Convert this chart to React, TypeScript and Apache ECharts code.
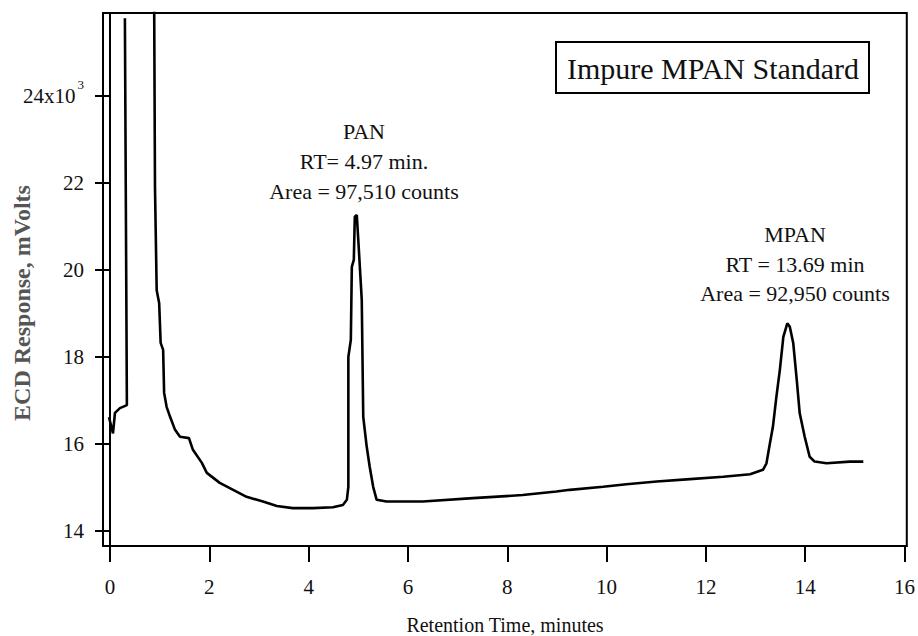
import React, { useEffect, useRef } from "react";
import * as echarts from "echarts";

// Retention time (minutes) and ECD response (x10^3 mV); null breaks the trace (off-scale)
const timeMin: number[] = [
  -0.02, 0.06, 0.1, 0.2, 0.34, 0.3, 0.6,
  0.886, 0.906, 0.94, 0.99, 1.02, 1.07, 1.09, 1.14, 1.21, 1.31, 1.41, 1.59, 1.67, 1.85, 1.95,
  2.21, 2.48, 2.75, 3.08, 3.36, 3.68, 4.09, 4.49, 4.69, 4.77, 4.8, 4.8, 4.85, 4.87, 4.91, 4.93,
  4.97, 5.0, 5.07, 5.1, 5.17, 5.23, 5.3, 5.37, 5.57, 6.3, 7.31, 8.31, 8.99, 9.26, 9.93, 10.4,
  11.01, 11.61, 12.35, 12.89, 13.15, 13.22, 13.29, 13.35, 13.42, 13.49, 13.56, 13.64, 13.69,
  13.76, 13.83, 13.89, 13.99, 14.09, 14.19, 14.43, 14.9, 15.17,
];
const responseE3mV: (number | null)[] = [
  16.61, 16.24, 16.71, 16.82, 16.89, 25.79, null,
  27.0, 21.9, 19.53, 19.24, 18.32, 18.16, 17.17, 16.85, 16.62, 16.32, 16.16, 16.13, 15.86, 15.56, 15.33,
  15.1, 14.94, 14.78, 14.67, 14.57, 14.52, 14.52, 14.54, 14.59, 14.71, 15.01, 18.0, 18.39, 20.07, 20.23, 21.22,
  21.26, 20.69, 19.31, 16.62, 15.93, 15.47, 15.01, 14.71, 14.67, 14.67, 14.75, 14.82, 14.9, 14.94, 15.01, 15.07,
  15.13, 15.18, 15.24, 15.3, 15.4, 15.55, 16.01, 16.39, 17.08, 17.7, 18.46, 18.77, 18.69,
  18.31, 17.47, 16.7, 16.16, 15.7, 15.59, 15.55, 15.59, 15.59,
];

const xTickValues = [0, 2, 4, 6, 8, 10, 12, 14, 16];
const yTickValues = [14, 16, 18, 20, 22, 24];
const xTitle = "Retention Time, minutes";
const yTitle = "ECD Response, mVolts";
const chartTitle = "Impure MPAN Standard";
const panLabel = ["PAN", "RT= 4.97 min.", "Area = 97,510 counts"];
const mpanLabel = ["MPAN", "RT = 13.69 min", "Area = 92,950 counts"];

export default function App() {
  const ref = useRef<HTMLDivElement>(null);
  useEffect(() => {
    if (!ref.current) return;
    const chart = echarts.init(ref.current, null, { renderer: "svg" });
    const ff = "Liberation Serif";
    const data = timeMin.map((t, i) => [t, responseE3mV[i] === null ? "-" : responseE3mV[i]]);

    const textLines = (lines: string[], cx: number, ys: number[]) =>
      lines.map((s, i) => ({
        type: "text",
        x: cx,
        y: ys[i],
        style: {
          text: s,
          fill: "#111",
          fontSize: 22,
          fontFamily: ff,
          align: "center",
          verticalAlign: "middle",
        },
      }));

    chart.setOption({
      animation: false,
      backgroundColor: "#fff",
      textStyle: { fontFamily: ff },
      grid: {
        left: 103,
        right: 11,
        top: 13,
        bottom: 90,
        show: true,
        borderColor: "#000",
        borderWidth: 2,
        backgroundColor: "transparent",
      },
      xAxis: {
        type: "value",
        min: -0.141,
        max: 16.046,
        axisLine: { show: true, lineStyle: { color: "#000", width: 2 } },
        axisTick: {
          show: true,
          inside: false,
          length: 16,
          customValues: xTickValues,
          lineStyle: { color: "#000", width: 2 },
        },
        axisLabel: {
          customValues: xTickValues,
          margin: 30,
          color: "#111",
          fontSize: 21,
          fontFamily: ff,
        },
        splitLine: { show: false },
      },
      yAxis: {
        type: "value",
        min: 13.648,
        max: 25.909,
        axisLine: { show: true, lineStyle: { color: "#000", width: 2 } },
        axisTick: {
          show: true,
          inside: false,
          length: 15,
          customValues: yTickValues,
          lineStyle: { color: "#000", width: 2 },
        },
        axisLabel: {
          customValues: yTickValues,
          margin: 19,
          color: "#111",
          fontFamily: ff,
          fontSize: 21,
          formatter: (v: number) => (v === 24 ? "{a|24x10}{s|3}" : "{a|" + v + "}"),
          rich: {
            a: { fontSize: 21, fontFamily: ff, color: "#111" },
            s: { fontSize: 13, fontFamily: ff, color: "#111", padding: [0, 0, 22, 2] },
          },
        },
        splitLine: { show: false },
      },
      series: [
        {
          type: "line",
          data,
          showSymbol: false,
          symbol: "none",
          clip: true,
          connectNulls: false,
          lineStyle: { color: "#000", width: 2.6 },
        },
      ],
      graphic: [
        {
          type: "rect",
          shape: { x: 556, y: 42, width: 313, height: 51 },
          style: { fill: "#fff", stroke: "#000", lineWidth: 2 },
        },
        {
          type: "text",
          x: 713,
          y: 68,
          style: {
            text: chartTitle,
            fill: "#111",
            fontSize: 30,
            fontFamily: ff,
            align: "center",
            verticalAlign: "middle",
          },
        },
        ...textLines(panLabel, 364, [131, 161, 191]),
        ...textLines(mpanLabel, 795, [234, 264, 293]),
        {
          type: "text",
          x: 505,
          y: 625,
          style: {
            text: xTitle,
            fill: "#111",
            fontSize: 20,
            fontFamily: ff,
            align: "center",
            verticalAlign: "middle",
          },
        },
        {
          type: "text",
          x: 22,
          y: 303,
          rotation: Math.PI / 2,
          style: {
            text: yTitle,
            fill: "#555",
            fontSize: 24,
            fontWeight: "bold",
            fontFamily: ff,
            align: "center",
            verticalAlign: "middle",
          },
        },
      ],
    });
    return () => chart.dispose();
  }, []);
  return (
    <div
      ref={ref}
      style={{ position: "fixed", left: 0, top: 0, width: 918, height: 636, background: "#fff" }}
    />
  );
}
